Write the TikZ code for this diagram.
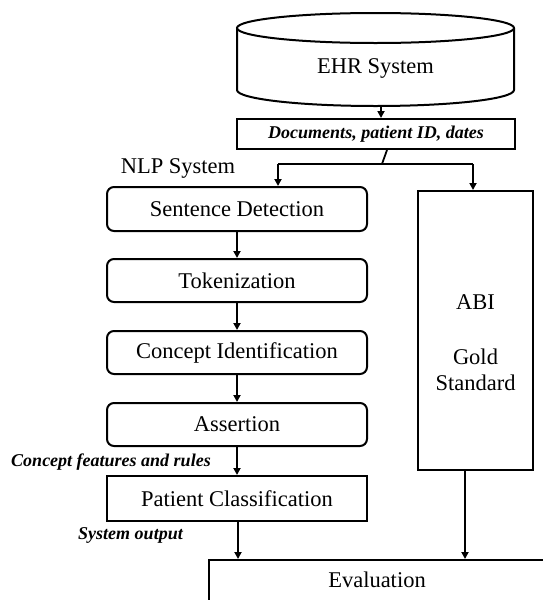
\documentclass[tikz,border=0pt]{standalone}
\usepackage{fontspec}
\setmainfont{Liberation Serif}
\usetikzlibrary{arrows.meta}
\begin{document}
\begin{tikzpicture}[x=1pt,y=-1pt,
  box/.style={draw,line width=2pt,minimum width=260pt,minimum height=44pt,inner sep=0pt,font=\fontsize{22.5}{26}\selectfont},
  rbox/.style={box,rounded corners=7pt},
  lbl/.style={font=\fontsize{18}{21}\selectfont\bfseries\itshape,inner sep=0pt},
  txt/.style={font=\fontsize{22.5}{26}\selectfont,inner sep=0pt},
  arr/.style={line width=1.8pt,-{Triangle[length=7pt,width=7pt]}},
  ln/.style={line width=1.8pt}]
\useasboundingbox (0,0) rectangle (543,600);
\begin{scope}
\clip (0,0) rectangle (543,600);
% cylinder
\draw[line width=2pt] (375.5,28) ellipse [x radius=138.5, y radius=15];
\draw[line width=2pt] (237,28) -- (237,90) arc[start angle=180,end angle=0,x radius=138.5,y radius=16] -- (514,28);
\node[txt] (ehr) at (375.5,68) {EHR System};
\coordinate (cyl) at (381,106);
% docs
\node[box,minimum width=278pt,minimum height=30pt,font=\fontsize{18}{21}\selectfont\bfseries\itshape] (docs) at (376,134) {Documents, patient ID, dates};
\draw[arr] (cyl) -- (docs.north -| cyl);
\coordinate (split) at (382,164);
\coordinate (sl) at (278,164);
\coordinate (sr) at (473,164);
\node[txt] (nlp) at (178,168) {NLP System};
% NLP boxes
\node[rbox] (sd) at (237,209) {Sentence Detection};
\node[rbox,minimum height=43pt] (tok) at (237,280.5) {Tokenization};
\node[rbox,minimum height=43pt] (ci) at (237,352.5) {Concept Identification};
\node[rbox,minimum height=43pt] (as) at (237,424.5) {Assertion};
\node[box,minimum height=45pt] (pc) at (237,498.5) {Patient Classification};
\node[box,minimum width=115pt,minimum height=279pt,align=center] (abi) at (475.5,330.5) {};
\node[txt] (abit) at (475.5,302) {ABI};
\node[txt,align=center] (gold) at (475.5,370) {Gold\\Standard};
% evaluation
\node[draw,line width=2pt,anchor=north west,minimum width=400pt,minimum height=80pt,inner sep=0pt] (eval) at (208,559) {};
\node[txt] (evalt) at (377,580) {Evaluation};
% labels
\node[lbl] (cfr) at (111,462) {Concept features and rules};
\node[lbl] (so) at (130.5,535) {System output};
% connectors
\draw[ln] (docs.south -| 387,0) -- (split);
\draw[ln] (sl) -- (sr);
\draw[arr] (sl) -- (sd.north -| sl);
\draw[arr] (sr) -- (abi.north -| sr);
\draw[arr] (sd) -- (tok);
\draw[arr] (tok) -- (ci);
\draw[arr] (ci) -- (as);
\draw[arr] (as) -- (pc);
\draw[arr] (pc.south -| 238,0) -- (eval.north -| 238,0);
\draw[arr] (abi.south -| 465,0) -- (eval.north -| 465,0);
\end{scope}
\end{tikzpicture}
\end{document}
